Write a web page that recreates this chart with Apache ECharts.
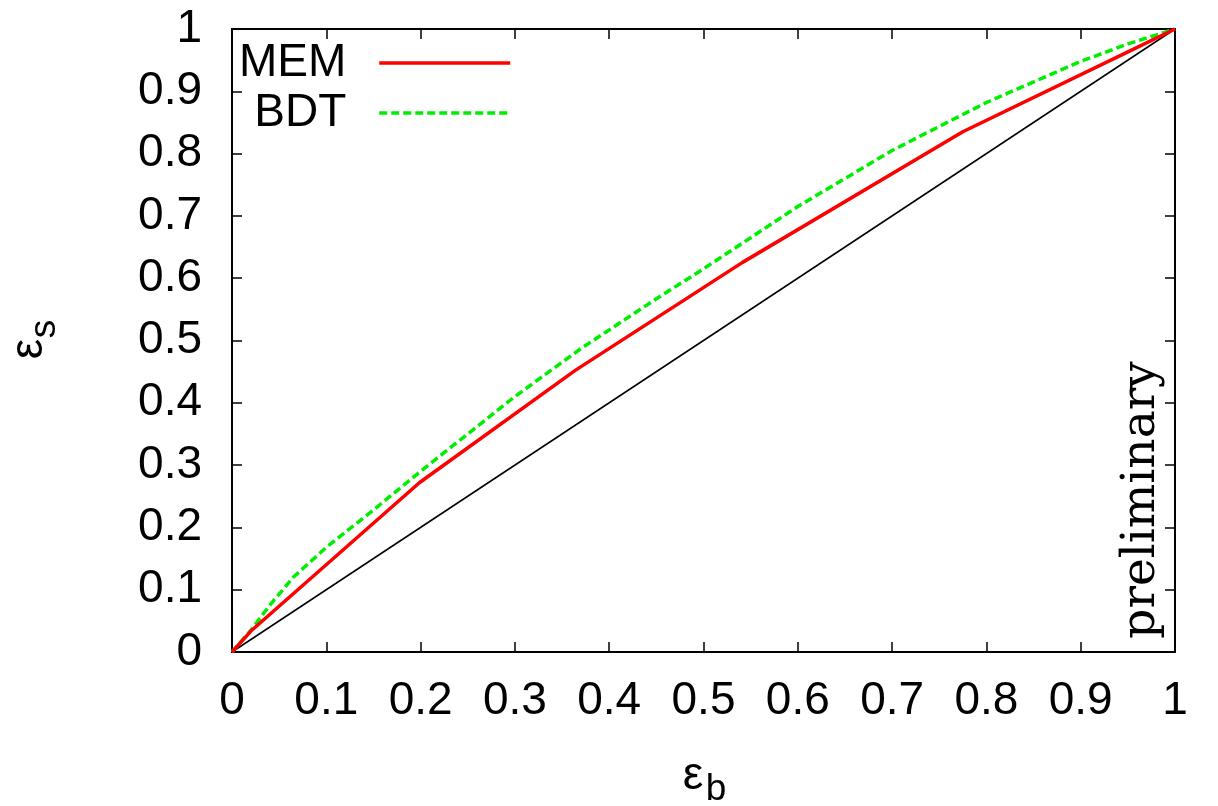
<!DOCTYPE html>
<html>
<head>
<meta charset="utf-8">
<script src="https://cdn.jsdelivr.net/npm/echarts@6/dist/echarts.min.js"></script>
<style>
  html, body { margin: 0; padding: 0; background: #fff; }
  #chart { width: 1218px; height: 806px; }
</style>
</head>
<body>
<div id="chart"></div>
<script>
// ROC-like curves: signal efficiency vs background efficiency
const diagX = [0, 1]
const diagY = [0, 1]
const memX = [0, 0.021, 0.199, 0.364, 0.541, 0.775, 0.955, 1]
const memY = [0, 0.035, 0.272, 0.452, 0.625, 0.835, 0.967, 1]
const bdtX = [0, 0.02, 0.04, 0.065, 0.1, 0.15, 0.2, 0.25, 0.3, 0.37, 0.45, 0.5, 0.6, 0.7, 0.8, 0.9, 0.95, 1]
const bdtY = [0, 0.035, 0.075, 0.12, 0.168, 0.228, 0.29, 0.35, 0.41, 0.487, 0.567, 0.615, 0.715, 0.805, 0.882, 0.948, 0.976, 1]

const pairs = (xs, ys) => xs.map((x, i) => [x, ys[i]])

const sans = 'Liberation Sans, Arial, sans-serif'
const frameLine = { show: true, onZero: false, lineStyle: { color: '#000', width: 2 } }
const tickIn = { show: true, inside: true, length: 10, lineStyle: { color: '#000', width: 1.5 } }

const legendItem = (name, top) => ({
  data: [name],
  orient: 'vertical',
  align: 'right',
  right: 706,
  top: top,
  padding: 0,
  itemWidth: 131,
  itemHeight: 14,
  itemStyle: { opacity: 0 },
  lineStyle: { width: 3.5 },
  textStyle: { fontSize: 46, fontFamily: sans, color: '#000', padding: [0, 28, 0, 0] }
})

const chart = echarts.init(document.getElementById('chart'))
chart.setOption({
  animation: false,
  backgroundColor: '#fff',
  grid: { left: 232, right: 43, top: 29, bottom: 154, containLabel: false },
  legend: [legendItem('MEM', 40), legendItem('BDT', 90)],
  xAxis: [
    {
      type: 'value', min: 0, max: 1, interval: 0.1,
      axisLine: frameLine, axisTick: tickIn, splitLine: { show: false },
      axisLabel: { fontSize: 46, fontFamily: sans, color: '#000', margin: 26 }
    },
    {
      type: 'value', position: 'top', min: 0, max: 1, interval: 0.1,
      axisLine: frameLine, axisTick: tickIn, splitLine: { show: false },
      axisLabel: { show: false }
    }
  ],
  yAxis: [
    {
      type: 'value', min: 0, max: 1, interval: 0.1,
      axisLine: frameLine, axisTick: tickIn, splitLine: { show: false },
      axisLabel: { fontSize: 46, fontFamily: sans, color: '#000', margin: 30 }
    },
    {
      type: 'value', position: 'right', min: 0, max: 1, interval: 0.1,
      axisLine: frameLine, axisTick: tickIn, splitLine: { show: false },
      axisLabel: { show: false }
    }
  ],
  series: [
    {
      name: 'diag',
      type: 'line',
      data: pairs(diagX, diagY),
      symbol: 'none',
      lineStyle: { color: '#000', width: 1.5 },
      z: 1
    },
    {
      name: 'MEM',
      type: 'line',
      data: pairs(memX, memY),
      symbol: 'none',
      itemStyle: { color: '#ff0000' },
      lineStyle: { color: '#ff0000', width: 3.5 },
      z: 3
    },
    {
      name: 'BDT',
      type: 'line',
      data: pairs(bdtX, bdtY),
      symbol: 'none',
      itemStyle: { color: '#00ee00' },
      lineStyle: { color: '#00ee00', width: 3.5, type: [8, 4] },
      z: 2
    }
  ],
  graphic: [
    {
      type: 'text', x: 693, y: 776,
      style: { text: 'ε', fontSize: 46, fontFamily: sans, fill: '#000', align: 'center', verticalAlign: 'middle' }
    },
    {
      type: 'text', x: 716, y: 790,
      style: { text: 'b', fontSize: 37, fontFamily: sans, fill: '#000', align: 'center', verticalAlign: 'middle' }
    },
    {
      type: 'text', x: 29, y: 349, rotation: Math.PI / 2,
      style: { text: 'ε', fontSize: 46, fontFamily: sans, fill: '#000', align: 'center', verticalAlign: 'middle' }
    },
    {
      type: 'text', x: 45, y: 329, rotation: Math.PI / 2,
      style: { text: 's', fontSize: 37, fontFamily: sans, fill: '#000', align: 'center', verticalAlign: 'middle' }
    },
    {
      type: 'text', x: 1142, y: 500, rotation: Math.PI / 2,
      style: { text: 'preliminary', fontSize: 47, fontFamily: 'DejaVu Serif, serif', fill: '#000', align: 'center', verticalAlign: 'middle' }
    }
  ]
})
</script>
</body>
</html>
